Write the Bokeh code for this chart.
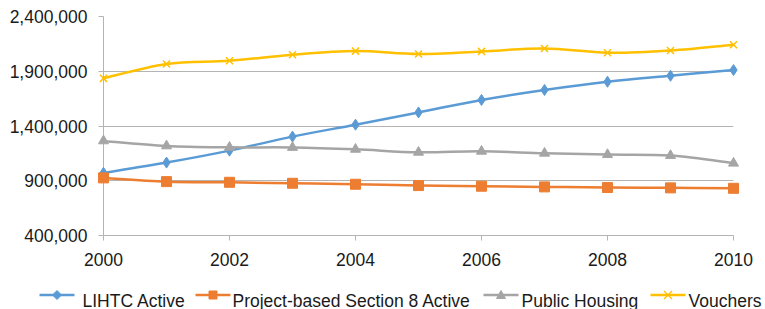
import numpy as np
from bokeh.plotting import figure
from bokeh.models import (ColumnDataSource, FixedTicker, NumeralTickFormatter, Range1d)
from bokeh.core.properties import value
from bokeh.embed import file_html
from bokeh.resources import INLINE

years = [2000, 2001, 2002, 2003, 2004, 2005, 2006, 2007, 2008, 2009, 2010]
lihtc = [972000, 1066000, 1175000, 1303000, 1412000, 1524000, 1638000, 1729000, 1804000, 1859000, 1911000]
section8 = [926000, 892000, 886000, 877000, 868000, 856000, 850000, 844000, 838000, 835000, 831000]
public_housing = [1264000, 1218000, 1205000, 1204000, 1187000, 1160000, 1169000, 1151000, 1139000, 1130000, 1060000]
vouchers = [1835000, 1966000, 1996000, 2051000, 2084000, 2057000, 2081000, 2108000, 2069000, 2090000, 2142000]

series_names = ["LIHTC Active", "Project-based Section 8 Active", "Public Housing", "Vouchers"]
series_values = [lihtc, section8, public_housing, vouchers]
y_ticks = [400000, 900000, 1400000, 1900000, 2400000]
x_ticks = [2000, 2002, 2004, 2006, 2008, 2010]

colors = ["#5B9BD5", "#ED7D31", "#A5A5A5", "#FFC000"]
markers = ["diamond", "square", "triangle", "x"]
sizes = [11, 10, 10, 10]

FONT = "Liberation Sans"
FS = "17.5px"
TXT = "#1a1a1a"
GRID = "#b4b4b4"

# layout (pixels)
W, H = 765, 309
BL, BR, BT, BB = 103, 32, 16, 74
X0, X1 = x_ticks[0], x_ticks[-1]
Y0, Y1 = y_ticks[0], y_ticks[-1]

p = figure(width=W, height=H, output_backend="svg", toolbar_location=None,
           x_range=Range1d(X0, X1), y_range=Range1d(Y0, Y1),
           min_border_left=BL, min_border_right=BR, min_border_top=BT, min_border_bottom=BB)
p.outline_line_color = None
p.background_fill_color = "white"

p.xgrid.grid_line_color = None
p.ygrid.grid_line_color = GRID
p.ygrid.grid_line_width = 1
p.ygrid.ticker = FixedTicker(ticks=y_ticks)

p.yaxis.ticker = FixedTicker(ticks=y_ticks)
p.yaxis.formatter = NumeralTickFormatter(format="0,0")
p.xaxis.ticker = FixedTicker(ticks=x_ticks)
for ax in (p.xaxis, p.yaxis):
    ax.axis_line_color = GRID
    ax.axis_line_width = 1
    ax.major_tick_line_color = GRID
    ax.major_tick_out = 5
    ax.major_tick_in = 0
    ax.minor_tick_line_color = None
    ax.major_label_text_font = FONT
    ax.major_label_text_font_size = FS
    ax.major_label_text_color = TXT
p.yaxis.major_label_standoff = 11
p.xaxis.major_label_standoff = 12


def smooth_segments(xs, ys):
    # Excel-style smoothed line: cubic Bezier segments between data points
    xs = np.asarray(xs, dtype=float)
    ys = np.asarray(ys, dtype=float)
    n = len(xs)
    px = np.concatenate([[xs[0]], xs, [xs[-1]]])
    py = np.concatenate([[ys[0]], ys, [ys[-1]]])
    d = dict(x0=[], y0=[], x1=[], y1=[], cx0=[], cy0=[], cx1=[], cy1=[])
    for i in range(n - 1):
        j = i + 1
        d["x0"].append(px[j]); d["y0"].append(py[j])
        d["x1"].append(px[j + 1]); d["y1"].append(py[j + 1])
        d["cx0"].append(px[j] + (px[j + 1] - px[j - 1]) / 6)
        d["cy0"].append(py[j] + (py[j + 1] - py[j - 1]) / 6)
        d["cx1"].append(px[j + 1] - (px[j + 2] - px[j]) / 6)
        d["cy1"].append(py[j + 1] - (py[j + 2] - py[j]) / 6)
    return d


for vals, col, mk, sz in zip(series_values, colors, markers, sizes):
    src = ColumnDataSource(smooth_segments(years, vals))
    p.bezier(x0="x0", y0="y0", x1="x1", y1="y1", cx0="cx0", cy0="cy0",
             cx1="cx1", cy1="cy1", source=src, line_color=col, line_width=2.5)
    if mk == "x":
        p.scatter(years, vals, marker=mk, size=sz, line_color=col, line_width=1.5,
                  level="overlay")
    else:
        p.scatter(years, vals, marker=mk, size=sz, fill_color=col, line_color=col,
                  level="overlay")

# ---- legend row below the x axis (drawn at overlay level, outside the frame) ----
fw, fh = W - BL - BR, H - BT - BB


def dx(px):  # pixel column -> data x
    return X0 + (px - BL) * (X1 - X0) / fw


def dy(py):  # pixel row -> data y
    return Y0 + (H - BB - py) * (Y1 - Y0) / fh


leg_line_px = [39, 195, 483, 650]     # left end of each sample line
leg_label_px = [82, 232, 521, 688]    # left edge of each label
leg_mid_px = 294.5
leg_base_px = 300.5
glyph_w = 35

# marker outlines for the legend samples, in pixels around the centre
shape_px = {
    "diamond": [(-4.5, 0), (0, -4.5), (4.5, 0), (0, 4.5)],
    "square": [(-4, -4), (4, -4), (4, 4), (-4, 4)],
    "triangle": [(-4.5, 3.5), (0, -4.5), (4.5, 3.5)],
}

for i, (col, mk) in enumerate(zip(colors, markers)):
    xa, xb = dx(leg_line_px[i]), dx(leg_line_px[i] + glyph_w)
    ym = dy(leg_mid_px)
    p.segment(x0=[xa], y0=[ym], x1=[xb], y1=[ym], line_color=col, line_width=2.5,
              level="overlay")
    cx = leg_line_px[i] + glyph_w / 2
    if mk == "x":
        r = 4
        p.segment(x0=[dx(cx - r), dx(cx - r)], y0=[dy(leg_mid_px - r), dy(leg_mid_px + r)],
                  x1=[dx(cx + r), dx(cx + r)], y1=[dy(leg_mid_px + r), dy(leg_mid_px - r)],
                  line_color=col, line_width=1.2, level="overlay")
    else:
        pts = shape_px[mk]
        p.patch(x=[dx(cx + a) for a, b in pts], y=[dy(leg_mid_px + b) for a, b in pts],
                fill_color=col, line_color=col, line_width=1, level="overlay")

p.text(x=[dx(v) for v in leg_label_px], y=[dy(leg_base_px)] * len(series_names),
       text=series_names, text_font=value(FONT), text_font_size=FS,
       text_color=TXT, text_align="left", text_baseline="alphabetic", level="overlay")

open("out.html", "w").write(file_html(p, INLINE))
